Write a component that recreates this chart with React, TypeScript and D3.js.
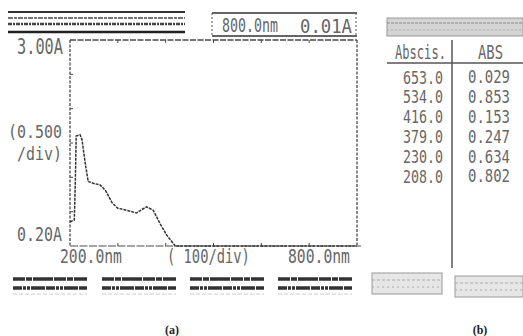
import { useEffect, useRef } from "react";
import * as d3 from "d3";

// spectrum (nm, absorbance)
const wavelength = [200, 209, 211, 213, 221, 225, 232, 238, 250, 263, 275, 288, 300, 318, 339, 350, 360, 366, 374, 388, 402, 420, 500, 600, 700, 800];
const absorbance = [0.35, 0.38, 0.9, 1.6, 1.62, 1.55, 1.2, 0.94, 0.91, 0.89, 0.8, 0.63, 0.55, 0.52, 0.48, 0.53, 0.57, 0.55, 0.52, 0.33, 0.16, 0.0, 0.0, 0.0, 0.0, 0.0];

// peak table
const abscis = ["653.0", "534.0", "416.0", "379.0", "230.0", "208.0"];
const absValues = ["0.029", "0.853", "0.153", "0.247", "0.634", "0.802"];

const xTicks = [300, 400, 500, 600, 700];
const yTicks = [0.5, 1.0, 1.5, 2.0, 2.5];

const ink = "#4a4a4a";
const mono = "'DejaVu Sans Mono', monospace";

export default function App() {
  const ref = useRef<SVGSVGElement | null>(null);

  useEffect(() => {
    const svg = d3.select(ref.current);
    svg.selectAll("*").remove();

    const x = d3.scaleLinear([200, 800], [70, 357]);
    const y = d3.scaleLinear([0, 3], [246, 40]);

    // narrow printer-style text: monospace squeezed horizontally to a given width
    const label = (tx: number, ty: number, s: string, len: number, size: number) => {
      const sx = len / (s.length * 0.602 * size);
      return svg.append("text")
        .attr("transform", `translate(${tx},${ty}) scale(${sx},1)`)
        .attr("dominant-baseline", "central")
        .attr("font-family", mono)
        .attr("font-size", size)
        .attr("fill", "#666")
        .text(s);
    };

    // header bar (left) - unreadable print rows
    const hdr = svg.append("g");
    hdr.append("line").attr("x1", 8).attr("x2", 185).attr("y1", 12).attr("y2", 12)
      .attr("stroke", "#333").attr("stroke-width", 2);
    hdr.append("line").attr("x1", 8).attr("x2", 185).attr("y1", 18).attr("y2", 18)
      .attr("stroke", "#777").attr("stroke-width", 2).attr("stroke-dasharray", "5,1,3,1");
    hdr.append("line").attr("x1", 8).attr("x2", 185).attr("y1", 24).attr("y2", 24)
      .attr("stroke", "#444").attr("stroke-width", 2.5).attr("stroke-dasharray", "4,1,2,1");
    hdr.append("line").attr("x1", 8).attr("x2", 185).attr("y1", 32).attr("y2", 32)
      .attr("stroke", "#222").attr("stroke-width", 2.5);

    // header box (middle)
    hdr.append("line").attr("x1", 212).attr("x2", 357).attr("y1", 13).attr("y2", 13)
      .attr("stroke", "#333").attr("stroke-width", 1.5);
    hdr.append("line").attr("x1", 212).attr("x2", 357).attr("y1", 36).attr("y2", 36)
      .attr("stroke", "#333").attr("stroke-width", 1.5);
    hdr.append("line").attr("x1", 212).attr("x2", 212).attr("y1", 13).attr("y2", 36)
      .attr("stroke", "#555").attr("stroke-dasharray", "2,2");
    hdr.append("line").attr("x1", 356).attr("x2", 356).attr("y1", 13).attr("y2", 36)
      .attr("stroke", "#555").attr("stroke-dasharray", "2,2");
    label(222, 26, "800.0nm", 56, 19);
    label(300, 26, "0.01A", 52, 19);

    // plot frame
    const frame = svg.append("g").attr("stroke", ink).attr("stroke-width", 1.3).attr("fill", "none");
    frame.append("line").attr("x1", x(200)).attr("x2", x(800)).attr("y1", y(3)).attr("y2", y(3))
      .attr("stroke-dasharray", "6,1.5");
    frame.append("line").attr("x1", x(200)).attr("x2", x(200)).attr("y1", y(3)).attr("y2", y(0))
      .attr("stroke-dasharray", "3,1.5");
    frame.append("line").attr("x1", x(800)).attr("x2", x(800)).attr("y1", y(3)).attr("y2", y(0))
      .attr("stroke-dasharray", "3,1.5");
    frame.append("line").attr("x1", x(200)).attr("x2", x(800) + 4).attr("y1", y(0)).attr("y2", y(0))
      .attr("stroke-dasharray", "8,1.5").attr("stroke", "#888");

    // ticks
    svg.append("g").selectAll("line").data(xTicks).join("line")
      .attr("x1", (d) => x(d)).attr("x2", (d) => x(d))
      .attr("y1", y(0)).attr("y2", y(0) - 3)
      .attr("stroke", ink);
    svg.append("g").selectAll("line").data(xTicks).join("line")
      .attr("x1", (d) => x(d)).attr("x2", (d) => x(d))
      .attr("y1", y(3)).attr("y2", y(3) + 3)
      .attr("stroke", ink);
    svg.append("g").selectAll("line").data(yTicks).join("line")
      .attr("x1", x(200)).attr("x2", x(200) + 3)
      .attr("y1", (d) => y(d)).attr("y2", (d) => y(d))
      .attr("stroke", ink);

    // spectrum
    const line = d3.line<number>()
      .x((d, i) => x(wavelength[i]))
      .y((d) => y(d));
    svg.append("path")
      .datum(absorbance)
      .attr("fill", "none")
      .attr("stroke", "#333")
      .attr("stroke-width", 1.5)
      .attr("stroke-dasharray", "3,1")
      .attr("d", line);

    // axis labels
    label(17, 47, "3.00A", 46, 21);
    label(8, 132, "(0.500", 54, 18);
    label(17, 154, "/div)", 45, 18);
    label(17, 234, "0.20A", 45, 20);
    label(60, 256, "200.0nm", 62, 20);
    label(167, 256, "( 100/div)", 83, 20);
    label(288, 256, "800.0nm", 62, 20);

    // footer buttons (left)
    const btnX = [13, 102, 190, 278];
    btnX.forEach((bx) => {
      svg.append("line").attr("x1", bx).attr("x2", bx + 74).attr("y1", 279).attr("y2", 279)
        .attr("stroke", "#333").attr("stroke-width", 3.5).attr("stroke-dasharray", "12,1,6,1,20,1");
      svg.append("line").attr("x1", bx).attr("x2", bx + 74).attr("y1", 288).attr("y2", 288)
        .attr("stroke", "#333").attr("stroke-width", 3.5).attr("stroke-dasharray", "9,1,3,1,3,1,14,1");
      svg.append("line").attr("x1", bx).attr("x2", bx + 74).attr("y1", 294).attr("y2", 294)
        .attr("stroke", "#ccc").attr("stroke-width", 1).attr("stroke-dasharray", "4,2");
    });

    // table (right)
    svg.append("rect").attr("x", 387).attr("y", 18).attr("width", 136).attr("height", 18)
      .attr("fill", "#d4d4d4").attr("stroke", "#999");
    svg.append("line").attr("x1", 387).attr("x2", 523).attr("y1", 23).attr("y2", 23)
      .attr("stroke", "#888").attr("stroke-dasharray", "3,1");
    svg.append("line").attr("x1", 387).attr("x2", 523).attr("y1", 30).attr("y2", 30)
      .attr("stroke", "#aaa").attr("stroke-dasharray", "2,2");
    label(395, 52, "Abscis.", 51, 20);
    label(478, 52, "ABS", 25, 20);
    svg.append("line").attr("x1", 387).attr("x2", 523).attr("y1", 63).attr("y2", 63)
      .attr("stroke", "#555").attr("stroke-width", 1.5);
    svg.append("line").attr("x1", 452).attr("x2", 452).attr("y1", 40).attr("y2", 268)
      .attr("stroke", "#555").attr("stroke-width", 1.5);

    const rowY = d3.scaleLinear([0, abscis.length - 1], [78, 177]);
    abscis.forEach((s, i) => label(403, rowY(i), s, 40, 17));
    absValues.forEach((s, i) => label(468, rowY(i), s, 42, 17));

    // footer boxes (right)
    [[372, 273, 70], [455, 276, 68]].forEach(([bx, by, bw]) => {
      svg.append("rect").attr("x", bx).attr("y", by).attr("width", bw).attr("height", 21)
        .attr("fill", "#e6e6e6").attr("stroke", "#999");
      svg.append("line").attr("x1", bx).attr("x2", bx + bw).attr("y1", by + 7).attr("y2", by + 7)
        .attr("stroke", "#aaa").attr("stroke-dasharray", "3,2");
      svg.append("line").attr("x1", bx).attr("x2", bx + bw).attr("y1", by + 14).attr("y2", by + 14)
        .attr("stroke", "#aaa").attr("stroke-dasharray", "2,3");
    });

    // captions
    svg.append("text").attr("x", 172).attr("y", 334).attr("text-anchor", "middle")
      .attr("font-family", "'Liberation Serif', serif").attr("font-weight", "bold")
      .attr("font-size", 12).attr("fill", "#222").text("(a)");
    svg.append("text").attr("x", 480).attr("y", 334).attr("text-anchor", "middle")
      .attr("font-family", "'Liberation Serif', serif").attr("font-weight", "bold")
      .attr("font-size", 12).attr("fill", "#222").text("(b)");
  }, []);

  return (
    <svg
      ref={ref}
      width={523}
      height={336}
      style={{ position: "absolute", left: 0, top: 0, background: "#fff" }}
    />
  );
}
